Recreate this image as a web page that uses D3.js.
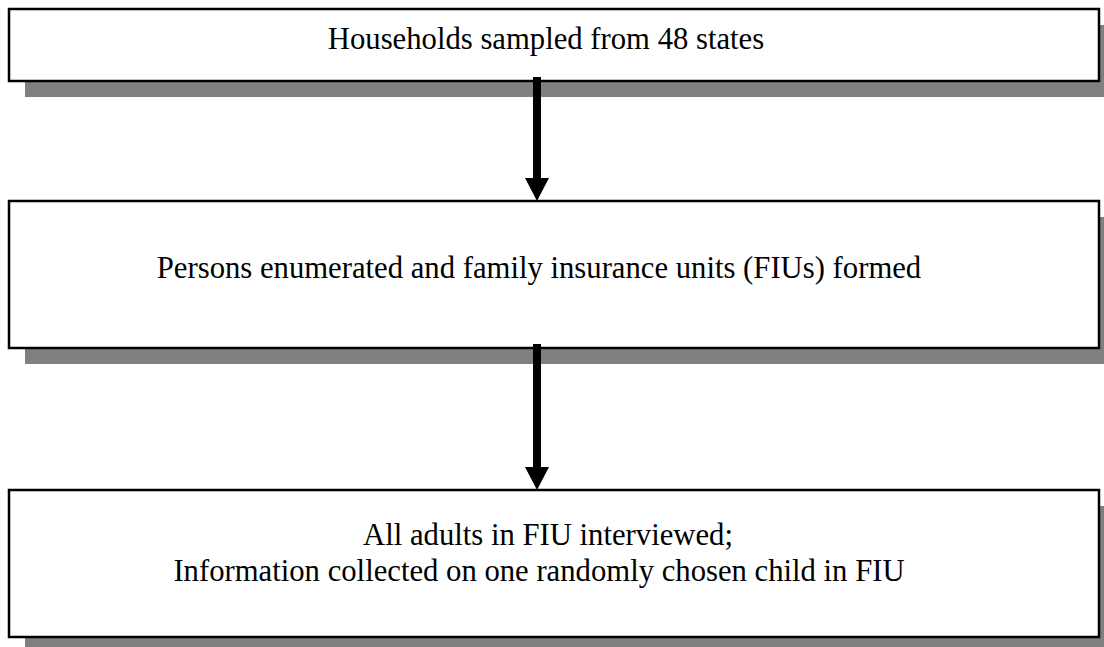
<!DOCTYPE html>
<html>
<head>
<meta charset="utf-8">
<script src="https://cdn.jsdelivr.net/npm/d3@7"></script>
<style>
  html, body { margin: 0; padding: 0; background: #fff; }
  svg { display: block; }
</style>
</head>
<body>
<div id="chart"></div>
<script>
// flow steps, one entry per box, each an array of text lines
const steps = [
  ['Households sampled from 48 states'],
  ['Persons enumerated and family insurance units (FIUs) formed'],
  ['All adults in FIU interviewed;', 'Information collected on one randomly chosen child in FIU']
];

const width = 1104;
const height = 647;

// box layout (pixels)
const boxX = 9;
const boxW = 1090;
const boxTops = [9, 201, 490];
const boxHeights = [72, 147, 147];
const shadowOff = 16;
const lineGap = 36;
const fontSize = 30.7;
// small horizontal nudges per line, the original isn't perfectly centred
const lineShift = [[7], [0], [9, 0]];

const svg = d3.select('#chart')
  .append('svg')
  .attr('width', width)
  .attr('height', height);

const boxes = steps.map((lines, i) => ({
  lines: lines,
  shift: lineShift[i],
  y: boxTops[i],
  h: boxHeights[i]
}));

// shadows first
svg.selectAll('.shadow')
  .data(boxes)
  .enter()
  .append('rect')
  .attr('class', 'shadow')
  .attr('x', boxX + shadowOff)
  .attr('y', d => d.y + shadowOff)
  .attr('width', boxW)
  .attr('height', d => d.h)
  .attr('fill', '#808080');

svg.selectAll('.box')
  .data(boxes)
  .enter()
  .append('rect')
  .attr('class', 'box')
  .attr('x', boxX)
  .attr('y', d => d.y)
  .attr('width', boxW)
  .attr('height', d => d.h)
  .attr('fill', '#fff')
  .attr('stroke', '#000')
  .attr('stroke-width', 2.5);

// labels
const cx = 539;
svg.selectAll('.label')
  .data(boxes)
  .enter()
  .append('text')
  .attr('class', 'label')
  .attr('text-anchor', 'middle')
  .style('font-family', '"Liberation Serif", "Times New Roman", serif')
  .style('font-size', fontSize + 'px')
  .attr('fill', '#000')
  .each(function(d) {
    const n = d.lines.length;
    const mid = d.y + d.h / 2 + 3.5 - (n - 1) * 4;
    d3.select(this).selectAll('tspan')
      .data(d.lines)
      .enter()
      .append('tspan')
      .attr('x', (l, j) => cx + d.shift[j])
      .attr('y', (l, j) => mid + (j - (n - 1) / 2) * lineGap)
      .text(l => l);
  });

// arrows between consecutive boxes
const arrowX = 537;
const shaftW = 8;
const headW = 24;
const headH = 23;
const arrows = d3.pairs(boxes).map(([a, b]) => ({ y0: a.y + a.h - 4, y1: b.y }));

svg.selectAll('.arrow')
  .data(arrows)
  .enter()
  .append('path')
  .attr('class', 'arrow')
  .attr('fill', '#000')
  .attr('d', d => {
    const p = d3.path();
    p.moveTo(arrowX - shaftW / 2, d.y0);
    p.lineTo(arrowX + shaftW / 2, d.y0);
    p.lineTo(arrowX + shaftW / 2, d.y1 - headH);
    p.lineTo(arrowX + headW / 2, d.y1 - headH);
    p.lineTo(arrowX, d.y1);
    p.lineTo(arrowX - headW / 2, d.y1 - headH);
    p.lineTo(arrowX - shaftW / 2, d.y1 - headH);
    p.closePath();
    return p.toString();
  });
</script>
</body>
</html>
